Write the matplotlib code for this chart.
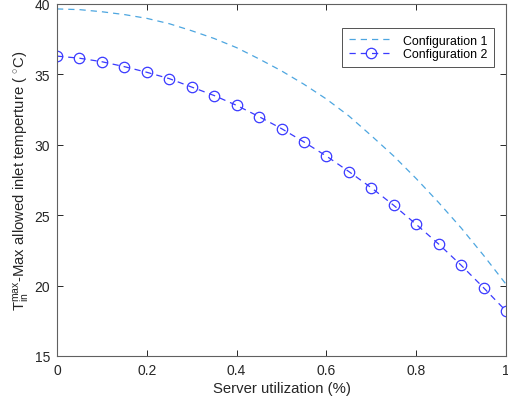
import matplotlib
matplotlib.use("Agg")
import matplotlib.pyplot as plt
import numpy as np

plt.rcParams['font.family'] = ['Liberation Sans', 'DejaVu Sans']
plt.rcParams['mathtext.fontset'] = 'custom'
plt.rcParams['mathtext.rm'] = 'Liberation Sans'

utilization = [0.0, 0.05, 0.1, 0.15, 0.2, 0.25, 0.3, 0.35, 0.4, 0.45, 0.5,
               0.55, 0.6, 0.65, 0.7, 0.75, 0.8, 0.85, 0.9, 0.95, 1.0]
config1 = [39.65, 39.6, 39.45, 39.25, 38.98, 38.6, 38.1, 37.55, 36.9, 36.1, 35.25,
           34.3, 33.25, 32.05, 30.65, 29.2, 27.6, 25.9, 24.1, 22.15, 20.1]
config2 = [36.3, 36.15, 35.9, 35.55, 35.15, 34.7, 34.1, 33.5, 32.8, 32.0, 31.15,
           30.2, 29.2, 28.1, 26.95, 25.7, 24.35, 22.95, 21.45, 19.85, 18.2]
xticks = [0, 0.2, 0.4, 0.6, 0.8, 1]
xticklabels = ['0', '0.2', '0.4', '0.6', '0.8', '1']
yticks = [15, 20, 25, 30, 35, 40]

fig = plt.figure(figsize=(5.08, 4.10), dpi=100)
ax = fig.add_axes([57/508, 53/410, 449/508, 352/410])

ax.plot(utilization, config1, linestyle=(0, (5, 4)), color='#4da6e0', linewidth=0.9,
        label='Configuration 1')
ax.plot(utilization, config2, linestyle=(0, (5, 4)), color='#3a3aff', linewidth=0.9,
        marker='o', markersize=7.5, markerfacecolor='none', markeredgewidth=0.9,
        label='Configuration 2')

ax.set_xlim(0, 1)
ax.set_ylim(15, 40)
ax.set_xticks(xticks)
ax.set_xticklabels(xticklabels)
ax.set_yticks(yticks)
ax.tick_params(direction='in', top=True, right=True, labelsize=10, colors='#262626',
               length=4, width=0.7, pad=5)
for s in ax.spines.values():
    s.set_color('#606060')
    s.set_linewidth(0.8)

ax.set_xlabel('Server utilization (%)', fontsize=10.7, color='#262626', labelpad=3)
ax.set_ylabel(r'$\mathregular{T_{in}^{max}}$-Max allowed inlet temperture ( $^{\circ}$C)',
              fontsize=10.7, color='#262626', labelpad=2)

leg = ax.legend(loc='upper right', bbox_to_anchor=(0.988, 0.95), fontsize=8.9,
                frameon=True, fancybox=False, handlelength=3.6, borderpad=0.55,
                labelspacing=0.15, handletextpad=0.8)
leg.get_frame().set_edgecolor('#262626')
leg.get_frame().set_linewidth(0.7)

fig.savefig('out.png', dpi=100)
